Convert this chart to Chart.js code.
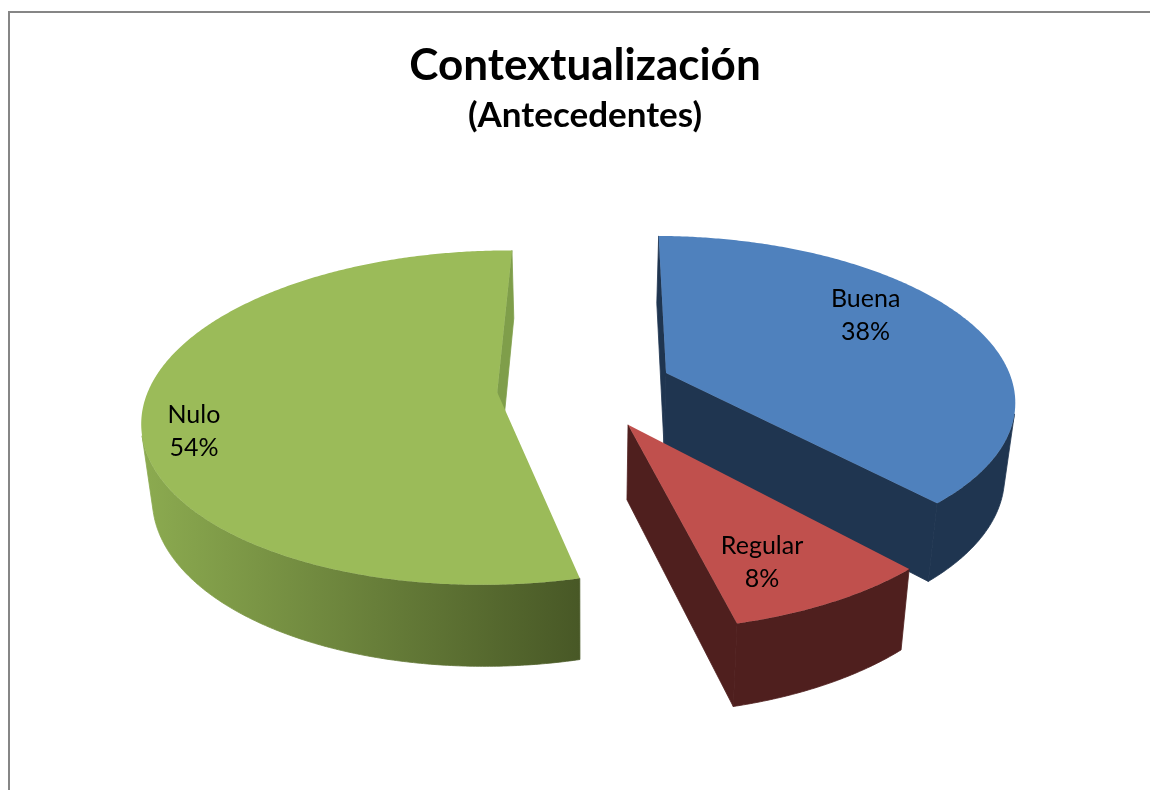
<!DOCTYPE html>
<html lang="es">
<head>
<meta charset="utf-8">
<title>Contextualización</title>
<script src="https://cdn.jsdelivr.net/npm/chart.js@4"></script>
<style>
    body { margin: 0; background: #fff; }
    canvas { display: block; }
</style>
</head>
<body>
<canvas id="grafico" width="1150" height="790"></canvas>
<script>
const categorias = ['Buena', 'Regular', 'Nulo'];
const valores = [38, 8, 54];

const coresTopo = ['#4f81bd', '#c0504d', '#9bbb59'];
// parede lateral: [cor esquerda, cor direita] e cor da parede radial
const coresParede = [['#1f3550', '#1f3550'], ['#4f1f1e', '#4f1f1e'], ['#8cab50', '#485826']];
const coresRadial = ['#1f3550', '#4f1f1e', '#7f9e4a'];
// ajuste dos rotulos: fracao do raio e giro em graus a partir do meio da fatia
const ajusteRotulo = [[0.737, -10.5], [0.775, 4], [0.86, -9]];

// camera da perspectiva
const centroX = 585, centroY = 387.5, distancia = 2300, altura = 1070;

function projetar(u, v) {
    const s = distancia / (distancia - v);
    return { x: centroX + u * s, y: centroY + altura * (s - 1), s: s };
}

// ponto de baixo da parede
function descer(p) {
    return {
        x: centroX + (p.x - centroX) * 0.975,
        y: p.y + 67 + (p.s - 0.855) * 44
    };
}

// a parede so aparece se estiver virada para a camera
function virada(a, b) {
    const pts = [a, b, descer(b), descer(a)];
    let area = 0;
    for (let n = 0; n < 4; n++) {
        const p = pts[n], q = pts[(n + 1) % 4];
        area += p.x * q.y - q.x * p.y;
    }
    return area < 0;
}

function pintarParede(ctx, linha, cor) {
    ctx.beginPath();
    linha.forEach((p, n) => n ? ctx.lineTo(p.x, p.y) : ctx.moveTo(p.x, p.y));
    for (let n = linha.length - 1; n >= 0; n--) {
        const d = descer(linha[n]);
        ctx.lineTo(d.x, d.y);
    }
    ctx.closePath();
    ctx.fillStyle = cor;
    ctx.strokeStyle = cor;
    ctx.lineWidth = 0.8;
    ctx.fill();
    ctx.stroke();
}

function desenharFatia(ctx, arco, i) {
    const meio = (arco.startAngle + arco.endAngle) / 2;
    const ox = Math.cos(meio) * arco.options.offset;
    const oy = Math.sin(meio) * arco.options.offset;
    const r = arco.outerRadius;

    const borda = [];
    const passos = Math.ceil((arco.endAngle - arco.startAngle) / (Math.PI / 360));
    for (let k = 0; k <= passos; k++) {
        const a = arco.startAngle + (arco.endAngle - arco.startAngle) * k / passos;
        borda.push(projetar(ox + Math.cos(a) * r, oy + Math.sin(a) * r));
    }
    const apice = projetar(ox, oy);
    const ultimo = borda[borda.length - 1];
    const xs = borda.map(p => p.x);

    const grad = ctx.createLinearGradient(Math.min(...xs), 0, Math.max(...xs), 0);
    grad.addColorStop(0, coresParede[i][0]);
    grad.addColorStop(1, coresParede[i][1]);

    if (virada(apice, borda[0])) pintarParede(ctx, [apice, borda[0]], coresRadial[i]);
    if (virada(ultimo, apice)) pintarParede(ctx, [ultimo, apice], coresRadial[i]);

    let trecho = [];
    for (let k = 0; k < borda.length - 1; k++) {
        if (virada(borda[k], borda[k + 1])) {
            if (!trecho.length) trecho.push(borda[k]);
            trecho.push(borda[k + 1]);
        } else if (trecho.length) {
            pintarParede(ctx, trecho, grad);
            trecho = [];
        }
    }
    if (trecho.length) pintarParede(ctx, trecho, grad);

    ctx.beginPath();
    ctx.moveTo(apice.x, apice.y);
    borda.forEach(p => ctx.lineTo(p.x, p.y));
    ctx.closePath();
    ctx.fillStyle = arco.options.backgroundColor;
    ctx.fill();
}

function desenharRotulo(ctx, arco, i, total) {
    const meio = (arco.startAngle + arco.endAngle) / 2;
    const ox = Math.cos(meio) * arco.options.offset;
    const oy = Math.sin(meio) * arco.options.offset;
    const a = meio + ajusteRotulo[i][1] * Math.PI / 180;
    const r = arco.outerRadius * ajusteRotulo[i][0];
    const p = projetar(ox + Math.cos(a) * r, oy + Math.sin(a) * r);
    ctx.fillStyle = '#000';
    ctx.font = '25px Lato';
    ctx.textAlign = 'center';
    ctx.textBaseline = 'middle';
    ctx.fillText(categorias[i], p.x, p.y - 16.5);
    ctx.fillText(Math.round(valores[i] / total * 100) + '%', p.x, p.y + 16.5);
}

const pizza3d = {
    id: 'pizza3d',
    beforeDraw(chart) {
        const ctx = chart.ctx;
        ctx.save();
        ctx.strokeStyle = '#868686';
        ctx.lineWidth = 2;
        ctx.beginPath();
        ctx.moveTo(9, 790);
        ctx.lineTo(9, 12);
        ctx.lineTo(1150, 12);
        ctx.stroke();
        ctx.restore();
    },
    beforeDatasetsDraw(chart) {
        const ctx = chart.ctx;
        const arcos = chart.getDatasetMeta(0).data;
        const total = valores.reduce((a, b) => a + b, 0);
        const ordem = arcos.map((_, i) => i).sort((a, b) => {
            const m = x => Math.sin((arcos[x].startAngle + arcos[x].endAngle) / 2) * arcos[x].options.offset;
            return m(a) - m(b);
        });
        ctx.save();
        ordem.forEach(i => desenharFatia(ctx, arcos[i], i));
        ordem.forEach(i => desenharRotulo(ctx, arcos[i], i, total));
        ctx.restore();
        return false;
    }
};

new Chart(document.getElementById('grafico'), {
    type: 'pie',
    data: {
        labels: categorias,
        datasets: [{
            data: valores,
            backgroundColor: coresTopo,
            borderWidth: 0,
            offset: 88,
            radius: 348
        }]
    },
    options: {
        responsive: false,
        animation: false,
        rotation: 0.6,
        layout: { padding: { left: 20, top: 39 } },
        plugins: {
            legend: { display: false },
            tooltip: { enabled: false },
            title: {
                display: true,
                text: 'Contextualización',
                color: '#000',
                font: { family: 'Lato', size: 44, weight: 'bold' },
                padding: { top: 0, bottom: 3 }
            },
            subtitle: {
                display: true,
                text: '(Antecedentes)',
                color: '#000',
                font: { family: 'Lato', size: 35, weight: 'bold' }
            }
        }
    },
    plugins: [pizza3d]
});
</script>
</body>
</html>
